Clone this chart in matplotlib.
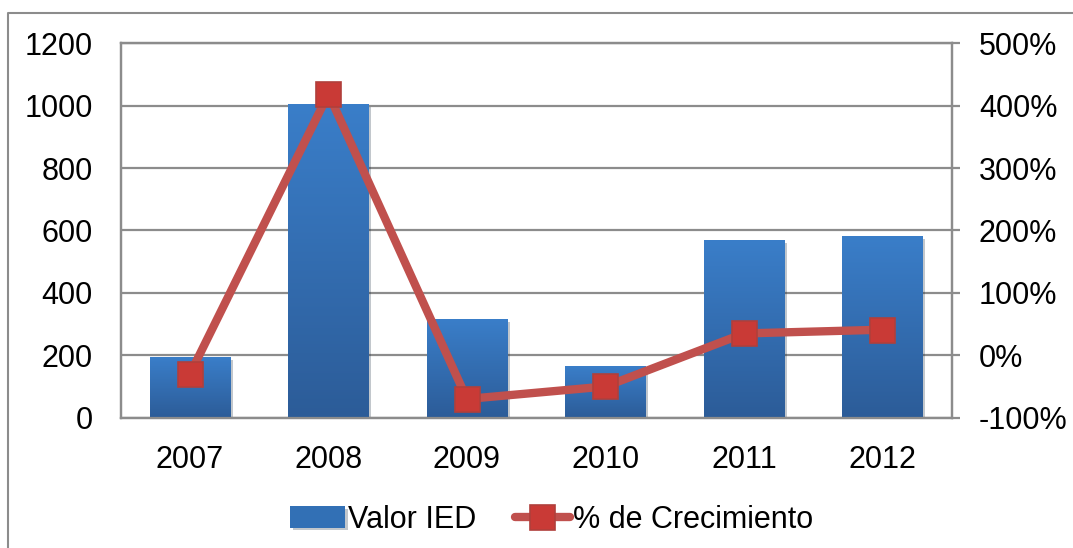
import numpy as np
import matplotlib
matplotlib.use("Agg")
import matplotlib.pyplot as plt
from matplotlib.colors import LinearSegmentedColormap
from matplotlib.ticker import FuncFormatter
from matplotlib.lines import Line2D
import matplotlib.patheffects as pe

plt.rcParams['font.family'] = ['Liberation Sans', 'DejaVu Sans']

# Inversion extranjera directa por año
anios = ['2007', '2008', '2009', '2010', '2011', '2012']
valor_ied = [195, 1004, 315, 166, 569, 582]
crecimiento = [-0.30, 4.19, -0.70, -0.50, 0.35, 0.41]

grid_gray = '#8C8C8C'
bar_cmap = LinearSegmentedColormap.from_list('ied', ['#2C5C98', '#3A7EC9'])

fig = plt.figure(figsize=(10.73, 5.48), dpi=100)
ax = fig.add_axes([0.1125, 0.2378, 0.887 - 0.1125, 0.921 - 0.2378])
ax2 = ax.twinx()

x = np.arange(len(anios))
width = 0.58
bars = ax.bar(x, valor_ied, width, color='#3270B5', zorder=2,
              path_effects=[pe.SimplePatchShadow(offset=(2, -2), alpha=0.25), pe.Normal()])

# vertical gradient inside each bar
grad = np.linspace(0, 1, 256).reshape(-1, 1)
for b in bars:
    x0, y0 = b.get_x(), b.get_y()
    img = ax.imshow(grad, cmap=bar_cmap, origin='lower', aspect='auto',
                    extent=[x0, x0 + b.get_width(), y0, y0 + b.get_height()], zorder=3)
    img.set_clip_path(b)

ax.set_xlim(-0.5, len(anios) - 0.5)
ax.set_ylim(0, 1200)
ax.set_yticks(range(0, 1201, 200))
ax.yaxis.grid(True, color=grid_gray, linewidth=1.6, zorder=0)
ax.set_axisbelow(True)
ax.set_xticks(x)
ax.set_xticklabels(anios)

line, = ax2.plot(x, crecimiento, color='#C0504D', linewidth=6, marker='s', markersize=18,
                 markerfacecolor='#C93A36', markeredgecolor='#B0403C', markeredgewidth=1.2,
                 solid_capstyle='round', zorder=5)
ax2.set_ylim(-1, 5)
ax2.set_yticks(np.arange(-1, 5.01, 1))
ax2.yaxis.set_major_formatter(FuncFormatter(lambda v, p: f'{v * 100:.0f}%'))

for a in (ax, ax2):
    for s in a.spines.values():
        s.set_color(grid_gray)
        s.set_linewidth(1.6)
ax.tick_params(axis='y', length=0, pad=20, labelsize=22, colors='black')
ax.tick_params(axis='x', length=0, pad=20, labelsize=22)
ax2.tick_params(axis='y', length=6, width=1.6, color=grid_gray, pad=13.5, labelsize=22)

fig.legend([bars, line], ['Valor IED', '% de Crecimiento'], loc='center',
           bbox_to_anchor=(0.514, 0.052), ncol=2, frameon=False, fontsize=22,
           handlelength=1.8, handletextpad=0.1, columnspacing=1.25, numpoints=1)

# gray outer frame
bx, by = 8 / 1073, 1 - 13 / 548
fig.add_artist(Line2D([bx, bx, 1.0], [0.0, by, by], transform=fig.transFigure,
                      color=grid_gray, linewidth=1.5))

fig.savefig('out.png', dpi=100)
